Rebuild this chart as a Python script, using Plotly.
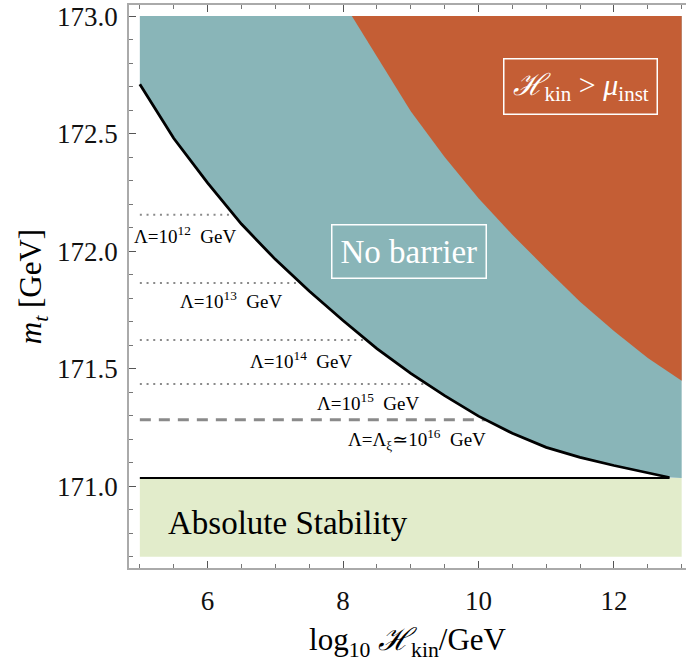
import numpy as np
import plotly.graph_objects as go

# ---------------- data ----------------
# lower boundary of the "No barrier" region (black curve)
curve_x = [5.0, 5.5, 6.0, 6.5, 7.0, 7.5, 8.0, 8.5, 9.0, 9.5, 10.0, 10.5, 11.0, 11.5, 12.0, 12.5, 12.82]
curve_y = [172.71, 172.48, 172.29, 172.115, 171.965, 171.83, 171.705, 171.585, 171.48, 171.385,
           171.298, 171.225, 171.165, 171.123, 171.088, 171.058, 171.037]

# boundary of the H_kin > mu_inst region
inst_x = [8.13, 8.5, 9.0, 9.5, 10.0, 10.5, 11.0, 11.5, 12.0, 12.5, 13.0]
inst_y = [173.0, 172.826, 172.595, 172.40, 172.225, 172.07, 171.925, 171.785, 171.66, 171.545, 171.449]

x_min, x_max = 5.0, 13.0
y_top = 173.0
y_bottom = 170.7
stability_mt = 171.035

# cutoff scale lines
lambda_labels = ["Λ=10<sup>12</sup>  GeV", "Λ=10<sup>13</sup>  GeV", "Λ=10<sup>14</sup>  GeV",
                 "Λ=10<sup>15</sup>  GeV", "Λ=Λ<sub>ξ</sub>≃10<sup>16</sup>  GeV"]
lambda_mt = [172.155, 171.864, 171.622, 171.435, 171.283]
lambda_label_x = [5.665, 6.35, 7.38, 8.37, 9.09]
lambda_label_y = [172.067, 171.794, 171.537, 171.357, 171.20]

x_ticks = [6, 8, 10, 12]
y_ticks = [171.0, 171.5, 172.0, 172.5, 173.0]

# ---------------- colours ----------------
TEAL = "#89B5B8"
ORANGE = "#C45E35"
GREEN = "#E2ECCB"
GRAY = "#8A8A8A"
FONT = "Liberation Serif, 'DejaVu Serif', serif"

fig = go.Figure()

# absolute stability region
fig.add_trace(go.Scatter(
    x=[x_min, x_max, x_max, x_min, x_min],
    y=[y_bottom, y_bottom, stability_mt, stability_mt, y_bottom],
    fill="toself", fillcolor=GREEN, line=dict(width=0), mode="lines", hoverinfo="skip"))

# no-barrier region
tx = list(curve_x) + [x_max, x_max, x_min]
ty = list(curve_y) + [stability_mt, y_top, y_top]
fig.add_trace(go.Scatter(x=tx, y=ty, fill="toself", fillcolor=TEAL,
                         line=dict(width=0), mode="lines", hoverinfo="skip"))

# H_kin > mu_inst region
ox = list(inst_x) + [x_max]
oy = list(inst_y) + [y_top]
fig.add_trace(go.Scatter(x=ox, y=oy, fill="toself", fillcolor=ORANGE,
                         line=dict(width=0), mode="lines", hoverinfo="skip"))

# Lambda lines (from the left edge to the curve)
cx_rev = np.array(curve_x)[::-1]
cy_rev = np.array(curve_y)[::-1]
for i, mt in enumerate(lambda_mt):
    x_end = float(np.interp(mt, cy_rev, cx_rev))
    is_last = i == len(lambda_mt) - 1
    fig.add_trace(go.Scatter(
        x=[x_min, x_end], y=[mt, mt], mode="lines", hoverinfo="skip",
        line=dict(color=GRAY, width=3 if is_last else 2,
                  dash="11px,8px" if is_last else "2px,4.7px")))

# black curve
fig.add_trace(go.Scatter(x=curve_x, y=curve_y, mode="lines", hoverinfo="skip",
                         line=dict(color="black", width=2.8)))
# stability line
fig.add_trace(go.Scatter(x=[x_min, curve_x[-1]], y=[stability_mt, stability_mt], mode="lines",
                         hoverinfo="skip", line=dict(color="black", width=2)))

annotations = []
for lab, lx, ly in zip(lambda_labels, lambda_label_x, lambda_label_y):
    annotations.append(dict(x=lx, y=ly, text=lab, showarrow=False,
                            font=dict(family=FONT, size=19, color="black")))

annotations.append(dict(x=8.98, y=172.0, text="No barrier", showarrow=False,
                        font=dict(family=FONT, size=33, color="white"),
                        bordercolor="white", borderwidth=1.5, borderpad=8))
annotations.append(dict(x=11.5, y=172.70,
                        text="<i>ℋ</i><sub>kin</sub> > <i>μ</i><sub>inst</sub>", showarrow=False,
                        font=dict(family=FONT, size=30, color="white"),
                        bordercolor="white", borderwidth=1.5, borderpad=8))
annotations.append(dict(x=7.19, y=170.845, text="Absolute Stability", showarrow=False,
                        font=dict(family=FONT, size=33, color="black")))

fig.update_layout(
    width=686, height=662,
    margin=dict(l=129, r=0, t=5, b=94, autoexpand=False),
    paper_bgcolor="white", plot_bgcolor="white",
    showlegend=False,
    annotations=annotations,
    font=dict(family=FONT, color="black"),
)

fig.update_xaxes(
    range=[4.84, 13.064], tickvals=x_ticks, ticktext=[str(v) for v in x_ticks],
    ticks="inside", ticklen=7, tickcolor="#555", tickwidth=1,
    minor=dict(ticks="inside", dtick=0.5, ticklen=4, tickcolor="#777", tickwidth=1),
    showline=True, linecolor="#AAAAAA", linewidth=1.5, mirror="ticks",
    showgrid=False, zeroline=False, automargin=False,
    tickfont=dict(family=FONT, size=27, color="#111"),
    ticklabelstandoff=8,
    title=dict(text="log<sub>10</sub> <i>ℋ</i><sub>kin</sub>/GeV",
               font=dict(family=FONT, size=31, color="black"), standoff=16),
)
fig.update_yaxes(
    range=[170.652, 173.047], tickvals=y_ticks, ticktext=["%.1f" % v for v in y_ticks],
    ticks="inside", ticklen=7, tickcolor="#555", tickwidth=1,
    minor=dict(ticks="inside", dtick=0.1, ticklen=4, tickcolor="#777", tickwidth=1),
    showline=True, linecolor="#AAAAAA", linewidth=1.5, mirror=False,
    showgrid=False, zeroline=False, automargin=False,
    tickfont=dict(family=FONT, size=27, color="#111"),
    ticklabelstandoff=4,
    title=dict(text="<i>m<sub>t</sub></i> [GeV]",
               font=dict(family=FONT, size=31, color="black"), standoff=6),
)

fig.write_html("out.html", config={"displayModeBar": False},
               post_script="document.body.style.margin='0px';document.body.style.overflow='hidden';")
